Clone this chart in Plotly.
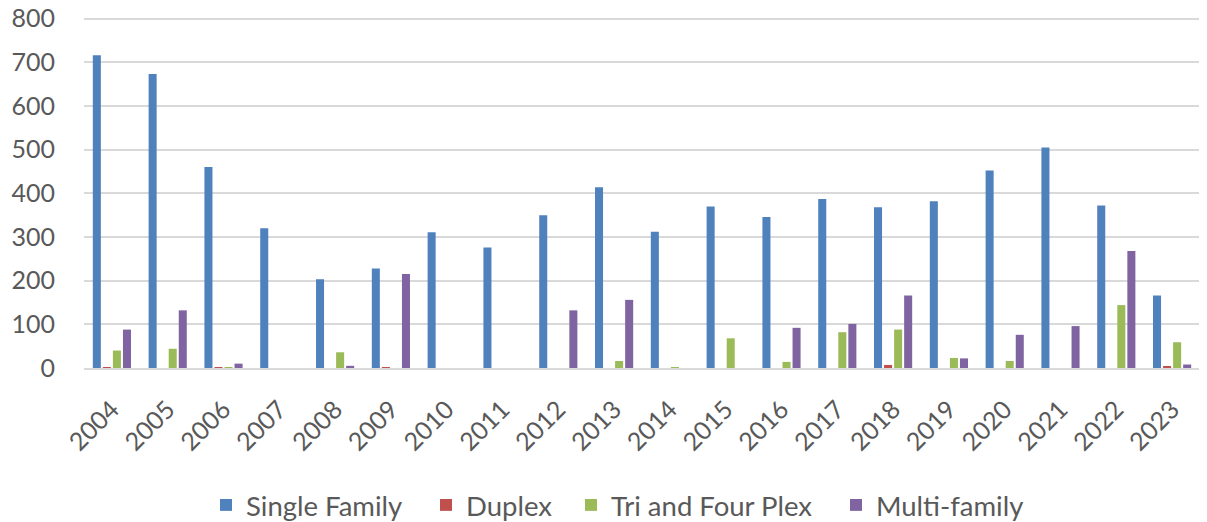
import plotly.graph_objects as go

years = [str(y) for y in range(2004, 2024)]

single_family = [716, 673, 460, 320, 203, 228, 311, 276, 350, 414,
                 312, 370, 346, 387, 368, 382, 452, 505, 372, 166]
duplex = [2, 0, 1, 0, 0, 1, 0, 0, 0, 0,
          0, 0, 0, 0, 7, 0, 0, 0, 0, 4]
tri_four_plex = [40, 44, 1, 0, 36, 0, 0, 0, 0, 16,
                 2, 68, 14, 82, 88, 23, 16, 0, 144, 59]
multi_family = [88, 132, 10, 0, 5, 215, 0, 0, 132, 156,
                0, 0, 92, 101, 166, 22, 76, 96, 268, 8]

series = [
    ("Single Family", single_family, "#4f81bd"),
    ("Duplex", duplex, "#c0504d"),
    ("Tri and Four Plex", tri_four_plex, "#9bbb59"),
    ("Multi-family", multi_family, "#8064a2"),
]

# page body has an 8px margin, so the figure is offset by that much
W, H = 1199, 514
OFF = 8

# one legend per series so the entries can be spaced like the original
legend_ids = ["legend", "legend2", "legend3", "legend4"]
legend_x = [206, 426, 571, 836]

fig = go.Figure()
for (name, vals, color), lid in zip(series, legend_ids):
    fig.add_trace(go.Bar(
        x=years,
        y=vals,
        name=name,
        legend=lid,
        marker=dict(color=color, line=dict(width=0)),
    ))

font_color = "#595959"
legend_style = dict(
    orientation="h",
    xref="container",
    yref="container",
    xanchor="left",
    yanchor="middle",
    y=(H - (505 - OFF)) / H,
    font=dict(size=27.5, color=font_color),
    bgcolor="rgba(0,0,0,0)",
)

fig.update_layout(
    width=W,
    height=H,
    barmode="group",
    bargap=0.28,
    bargroupgap=0.2,
    plot_bgcolor="white",
    paper_bgcolor="white",
    margin=dict(l=84 - OFF, r=W - (1200 - OFF), t=16 - OFF, b=H - (368 - OFF), autoexpand=False),
    font=dict(family="Lato, Open Sans, sans-serif", size=25, color=font_color),
    xaxis=dict(
        automargin=False,
        tickangle=-45,
        showgrid=False,
        showline=True,
        linecolor="#d9d9d9",
        linewidth=2,
        ticks="",
        ticklabelstandoff=15,
        tickfont=dict(size=25, color=font_color),
    ),
    yaxis=dict(
        automargin=False,
        range=[0, 806],
        tickvals=[0, 100, 200, 300, 400, 500, 600, 700, 800],
        showgrid=True,
        gridcolor="#d9d9d9",
        gridwidth=1.5,
        zeroline=False,
        ticks="",
        ticklabelstandoff=28,
        ticklabeloverflow="allow",
        tickfont=dict(size=25, color=font_color),
    ),
    showlegend=True,
)
for lid, lx in zip(legend_ids, legend_x):
    fig.update_layout({lid: dict(legend_style, x=(lx - OFF) / W)})

fig.write_html("out.html")
